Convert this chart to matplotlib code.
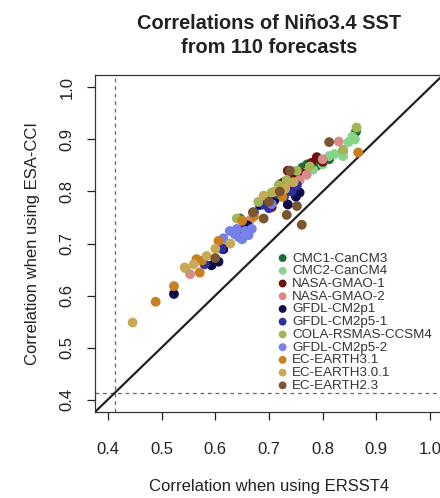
"""Scatter of Nino3.4 SST forecast correlations: ERSST4 vs ESA-CCI reference."""

import matplotlib

matplotlib.use("Agg")
import matplotlib.pyplot as plt

plt.rcParams.update({"font.family": ["Liberation Sans", "DejaVu Sans"]})

MODELS = [
    "CMC1-CanCM3",
    "CMC2-CanCM4",
    "NASA-GMAO-1",
    "NASA-GMAO-2",
    "GFDL-CM2p1",
    "GFDL-CM2p5-1",
    "COLA-RSMAS-CCSM4",
    "GFDL-CM2p5-2",
    "EC-EARTH3.1",
    "EC-EARTH3.0.1",
    "EC-EARTH2.3",
]
COLORS = [
    "#1f6b35",
    "#86d68a",
    "#6e1010",
    "#d98a8a",
    "#0c0c4e",
    "#30309a",
    "#a4b556",
    "#7482e8",
    "#c88020",
    "#c8aa55",
    "#7a5530",
]

# correlation with ERSST4 (x) and ESA-CCI (y), 10 forecasts per model
cmc1_x = [0.646, 0.700, 0.722, 0.745, 0.762, 0.771, 0.790, 0.812, 0.838, 0.862]
cmc1_y = [0.748, 0.790, 0.815, 0.838, 0.846, 0.852, 0.850, 0.862, 0.878, 0.915]
cmc2_x = [0.735, 0.765, 0.782, 0.800, 0.812, 0.822, 0.838, 0.848, 0.855, 0.860]
cmc2_y = [0.812, 0.836, 0.842, 0.852, 0.868, 0.872, 0.868, 0.895, 0.905, 0.900]
gmao1_x = [0.690, 0.712, 0.728, 0.745, 0.760, 0.779, 0.789, 0.800, 0.735, 0.705]
gmao1_y = [0.785, 0.800, 0.818, 0.830, 0.836, 0.855, 0.866, 0.857, 0.840, 0.770]
gmao2_x = [0.553, 0.620, 0.665, 0.700, 0.722, 0.738, 0.757, 0.770, 0.800, 0.830]
gmao2_y = [0.641, 0.700, 0.745, 0.770, 0.790, 0.808, 0.822, 0.832, 0.862, 0.896]
cm2p1_x = [0.523, 0.593, 0.606, 0.615, 0.660, 0.683, 0.710, 0.735, 0.750, 0.757]
cm2p1_y = [0.603, 0.658, 0.665, 0.689, 0.735, 0.774, 0.783, 0.775, 0.790, 0.798]
cm2p51_x = [0.580, 0.612, 0.650, 0.672, 0.690, 0.700, 0.715, 0.728, 0.742, 0.752]
cm2p51_y = [0.660, 0.690, 0.728, 0.760, 0.775, 0.768, 0.795, 0.790, 0.800, 0.812]
cola_x = [0.545, 0.640, 0.680, 0.705, 0.718, 0.733, 0.752, 0.776, 0.838, 0.863]
cola_y = [0.652, 0.748, 0.780, 0.798, 0.812, 0.822, 0.840, 0.848, 0.880, 0.923]
cm2p52_x = [0.615, 0.627, 0.636, 0.644, 0.650, 0.656, 0.662, 0.668, 0.640, 0.705]
cm2p52_y = [0.710, 0.724, 0.718, 0.712, 0.708, 0.724, 0.716, 0.728, 0.728, 0.776]
ec31_x = [0.489, 0.523, 0.565, 0.571, 0.575, 0.606, 0.650, 0.672, 0.725, 0.866]
ec31_y = [0.588, 0.618, 0.670, 0.644, 0.667, 0.705, 0.744, 0.752, 0.790, 0.875]
ec301_x = [0.446, 0.543, 0.560, 0.584, 0.600, 0.628, 0.690, 0.712, 0.730, 0.746]
ec301_y = [0.548, 0.654, 0.660, 0.676, 0.690, 0.700, 0.792, 0.800, 0.805, 0.818]
ec23_x = [0.600, 0.670, 0.700, 0.733, 0.739, 0.752, 0.761, 0.690, 0.720, 0.812]
ec23_y = [0.672, 0.760, 0.780, 0.755, 0.840, 0.772, 0.736, 0.748, 0.800, 0.895]

XS = [cmc1_x, cmc2_x, gmao1_x, gmao2_x, cm2p1_x, cm2p51_x,
      cola_x, cm2p52_x, ec31_x, ec301_x, ec23_x]
YS = [cmc1_y, cmc2_y, gmao1_y, gmao2_y, cm2p1_y, cm2p51_y,
      cola_y, cm2p52_y, ec31_y, ec301_y, ec23_y]

SIG_LEVEL = 0.413  # significance threshold (dashed lines)
TICKS = [0.4, 0.5, 0.6, 0.7, 0.8, 0.9, 1.0]

fig = plt.figure(figsize=(4.4, 4.98), dpi=100)
ax = fig.add_axes([95 / 440, 1 - 412 / 498, 348 / 440, 337 / 498])

ax.axvline(SIG_LEVEL, color="#666666", ls=(0, (3, 3)), lw=0.9, zorder=1)
ax.axhline(SIG_LEVEL, color="#666666", ls=(0, (3, 3)), lw=0.9, zorder=1)
ax.axline((0, 0), slope=1, color="#222222", lw=1.6, zorder=2)

for name, col, xs, ys in zip(MODELS, COLORS, XS, YS):
    ax.scatter(xs, ys, s=50, color=col, edgecolors="none", label=name, zorder=3)

ax.set_xlim(0.376, 1.024)
ax.set_ylim(0.376, 1.024)
ax.set_xticks(TICKS)
ax.set_yticks(TICKS)
ax.set_xticklabels([f"{t:.1f}" for t in TICKS])
ax.set_yticklabels([f"{t:.1f}" for t in TICKS], rotation=90, va="center")
ax.tick_params(direction="out", length=5.5, width=0.9, labelsize=12,
               colors="#222222")
ax.tick_params(axis="x", pad=16)
ax.tick_params(axis="y", pad=9)
for sp in ax.spines.values():
    sp.set_linewidth(0.9)
    sp.set_color("#333333")

ax.set_xlabel("Correlation when using ERSST4", fontsize=12, labelpad=16,
              color="#222222")
ax.set_ylabel("Correlation when using ESA-CCI", fontsize=12, labelpad=14,
              color="#222222")
ax.set_title("Correlations of Niño3.4 SST\nfrom 110 forecasts",
             fontsize=14.4, fontweight="bold", linespacing=1.35, pad=16,
             color="#222222")

ax.legend(loc="lower left", bbox_to_anchor=(0.497, 0.04), frameon=False,
          fontsize=9.6, labelspacing=0.03, handletextpad=0.1, borderpad=0,
          handlelength=1.2, markerscale=0.8, labelcolor="#333333")

fig.savefig("out.png", dpi=100)
